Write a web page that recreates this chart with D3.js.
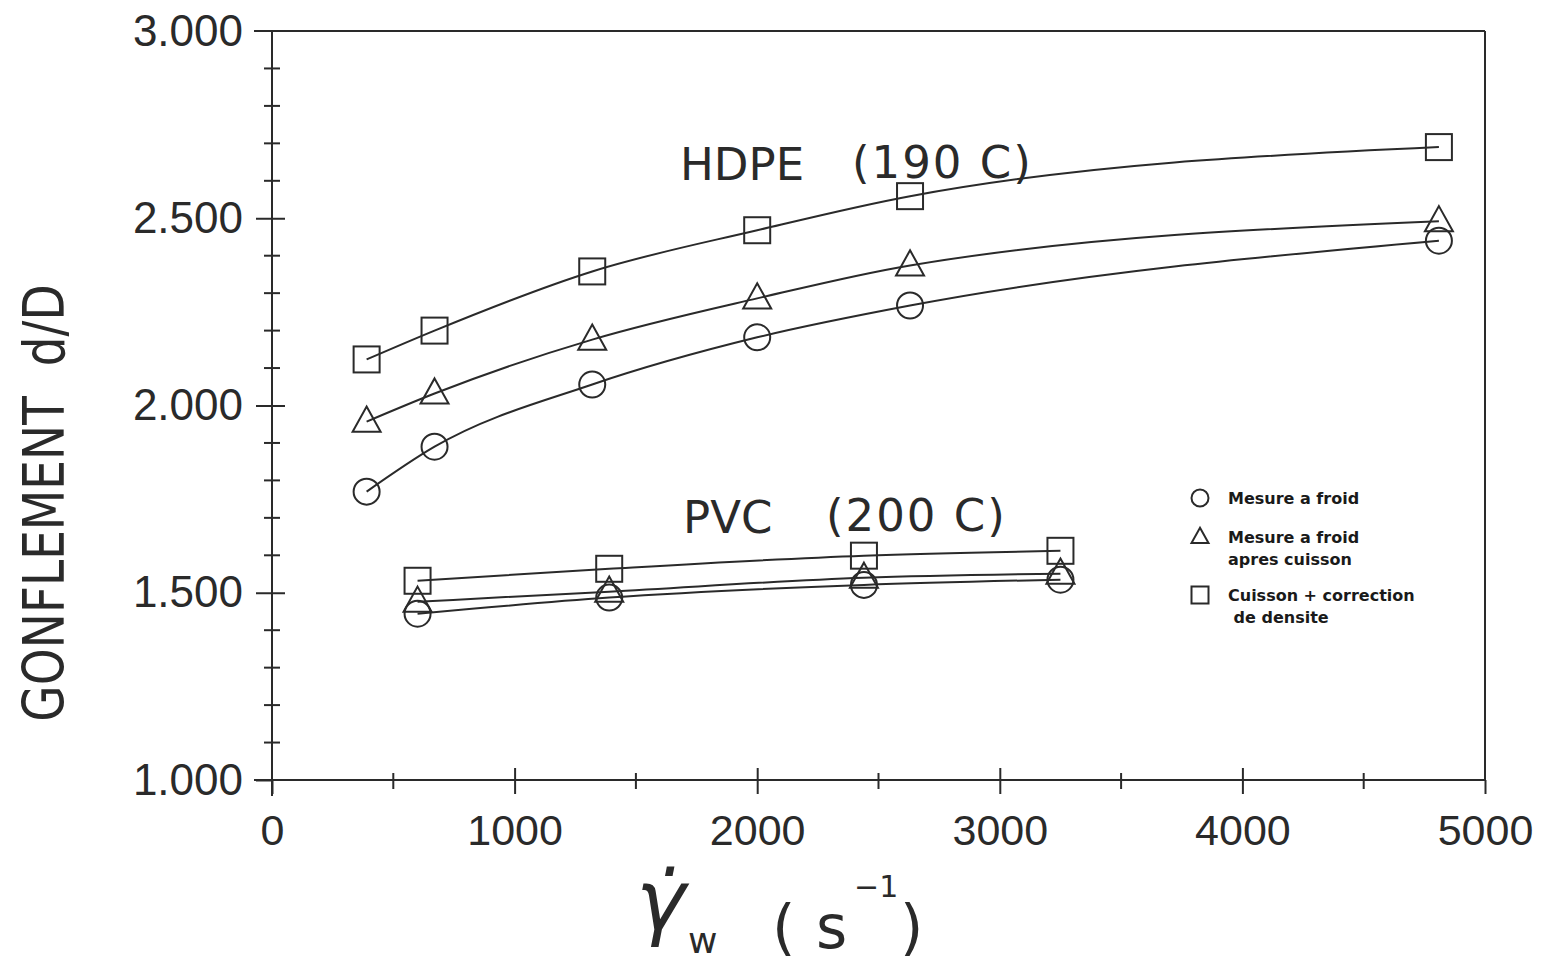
<!DOCTYPE html>
<html lang="fr">
<head>
  <meta charset="UTF-8">
  <title>Gonflement d/D</title>
  <script src="https://d3js.org/d3.v7.min.js"></script>
  <style>
    body { margin: 0; background: #fff; overflow: hidden; }
    svg { font-family: "DejaVu Sans", sans-serif; }
    .axis path, .axis line { stroke: #2a2a2a; stroke-width: 2px; }
    .axis text { fill: #2a2a2a; }
    .curve { fill: none; stroke: #2a2a2a; stroke-width: 2px; }
    .mark { fill: none; stroke: #2a2a2a; stroke-width: 2px; }
    .label { fill: #2a2a2a; font-size: 45px; }
    .legend text { fill: #1a1a1a; font-size: 16px; font-weight: bold; }
  </style>
</head>
<body>
<svg id="chart" width="1543" height="961"></svg>
<script>
// shear rate (s-1)
const hdpeX = [390, 670, 1320, 2000, 2630, 4810];
const hdpeCircle = [1.770, 1.890, 2.056, 2.182, 2.267, 2.440];
const hdpeTriangle = [1.957, 2.032, 2.176, 2.286, 2.374, 2.492];
const hdpeSquare = [2.123, 2.200, 2.358, 2.468, 2.559, 2.690];

const pvcX = [600, 1390, 2440, 3250];
const pvcCircle = [1.444, 1.487, 1.521, 1.535];
const pvcTriangle = [1.476, 1.503, 1.540, 1.551];
const pvcSquare = [1.532, 1.564, 1.599, 1.612];

const yMajor = [1.0, 1.5, 2.0, 2.5, 3.0];
const yMinor = [1.1, 1.2, 1.3, 1.4, 1.6, 1.7, 1.8, 1.9, 2.1, 2.2, 2.3, 2.4, 2.6, 2.7, 2.8, 2.9];
const xMajor = [0, 1000, 2000, 3000, 4000, 5000];
const xMinor = [500, 1500, 2500, 3500, 4500];

const legendItems = [
  { shape: "circle", lines: ["Mesure a froid"] },
  { shape: "triangle", lines: ["Mesure a froid", "apres cuisson"] },
  { shape: "square", lines: ["Cuisson + correction", " de densite"] }
];

const svg = d3.select("#chart");
const x = d3.scaleLinear().domain([0, 5000]).range([272, 1485]);
const y = d3.scaleLinear().domain([1, 3]).range([780, 31]);

// frame: top and right
svg.append("line").attr("x1", 254).attr("x2", x(5000)).attr("y1", y(3)).attr("y2", y(3))
  .attr("stroke", "#2a2a2a").attr("stroke-width", 2);
svg.append("line").attr("x1", x(5000)).attr("x2", x(5000)).attr("y1", y(3)).attr("y2", y(1))
  .attr("stroke", "#2a2a2a").attr("stroke-width", 2);

// y axis, ticks crossing the line
const gy = svg.append("g").attr("class", "axis").attr("transform", `translate(${x(0)},0)`);
gy.call(d3.axisLeft(y).tickValues(yMajor).tickSize(16).tickSizeOuter(0).tickPadding(13)
  .tickFormat(d3.format(".3f")));
gy.selectAll("text").style("font-size", "44px");
gy.select(".domain").attr("d", `M0,${y(3)}V${y(1) + 16}`);
gy.selectAll(".tick").filter(d => d === 3).select("line").remove();
gy.selectAll(".tick").filter(d => d !== 3 && d !== 1).append("line").attr("x2", 13);
yMinor.forEach(v => {
  gy.append("line").attr("x1", -8).attr("x2", 8).attr("y1", y(v)).attr("y2", y(v));
});

// x axis
const gx = svg.append("g").attr("class", "axis").attr("transform", `translate(0,${y(1)})`);
gx.call(d3.axisBottom(x).tickValues(xMajor).tickSize(14).tickSizeOuter(0).tickPadding(20)
  .tickFormat(d3.format("d")));
gx.selectAll("text").style("font-size", "43px");
gx.select(".domain").attr("d", `M${x(0) - 18},0H${x(5000)}`);
gx.selectAll(".tick").filter(d => d > 0 && d < 5000).append("line").attr("y2", -12);
xMinor.forEach(v => {
  gx.append("line").attr("x1", x(v)).attr("x2", x(v)).attr("y1", -7).attr("y2", 9);
});

// curves
const line = d3.line().x(d => x(d[0])).y(d => y(d[1])).curve(d3.curveMonotoneX);
const groups = [
  { xs: hdpeX, ys: hdpeCircle, shape: "circle" },
  { xs: hdpeX, ys: hdpeTriangle, shape: "triangle" },
  { xs: hdpeX, ys: hdpeSquare, shape: "square" },
  { xs: pvcX, ys: pvcCircle, shape: "circle" },
  { xs: pvcX, ys: pvcTriangle, shape: "triangle" },
  { xs: pvcX, ys: pvcSquare, shape: "square" }
];

function marker(g, shape, cx, cy, s) {
  if (shape === "circle") {
    g.append("circle").attr("class", "mark").attr("cx", cx).attr("cy", cy).attr("r", s / 2);
  } else if (shape === "square") {
    g.append("rect").attr("class", "mark").attr("x", cx - s / 2).attr("y", cy - s / 2)
      .attr("width", s).attr("height", s);
  } else {
    const h = s * 0.9;
    g.append("path").attr("class", "mark")
      .attr("d", `M${cx},${cy - h * 0.6}L${cx + s / 2},${cy + h * 0.4}L${cx - s / 2},${cy + h * 0.4}Z`);
  }
}

groups.forEach(gr => {
  const pts = gr.xs.map((v, i) => [v, gr.ys[i]]);
  svg.append("path").attr("class", "curve").attr("d", line(pts));
  const g = svg.append("g");
  pts.forEach(p => marker(g, gr.shape, x(p[0]), y(p[1]), gr.shape === "triangle" ? 28 : 26));
});

// annotations
svg.append("text").attr("class", "label").attr("x", 680).attr("y", 180).text("HDPE");
svg.append("text").attr("class", "label").attr("x", 852).attr("y", 178)
  .style("letter-spacing", "2px").text("(190 C)");
svg.append("text").attr("class", "label").attr("x", 683).attr("y", 533).text("PVC");
svg.append("text").attr("class", "label").attr("x", 826).attr("y", 531)
  .style("letter-spacing", "2px").text("(200 C)");

// legend
const lg = svg.append("g").attr("class", "legend");
const legendY = [498, 537, 595];
legendItems.forEach((it, i) => {
  marker(lg, it.shape, 1200, legendY[i], 17);
  it.lines.forEach((t, j) => {
    lg.append("text").attr("x", 1228).attr("y", legendY[i] + 6 + j * 22)
      .style("white-space", "pre").text(t);
  });
});

// axis titles
svg.append("text")
  .attr("transform", "translate(64,503) rotate(-90) scale(1,1.2)")
  .attr("text-anchor", "middle")
  .style("font-size", "47px").style("fill", "#2a2a2a").style("white-space", "pre")
  .text("GONFLEMENT  d/D");

const xt = svg.append("text").style("fill", "#2a2a2a");
xt.append("tspan").attr("x", 636).attr("y", 930).style("font-size", "84px")
  .style("font-style", "italic").text("\u03B3\u0307");
xt.append("tspan").attr("x", 688).attr("y", 953).style("font-size", "36px").text("w");
xt.append("tspan").attr("x", 772).attr("y", 948).style("font-size", "60px").text("(");
xt.append("tspan").attr("x", 816).attr("y", 948).style("font-size", "60px").text("s");
xt.append("tspan").attr("x", 854).attr("y", 897).style("font-size", "30px").text("\u22121");
xt.append("tspan").attr("x", 900).attr("y", 948).style("font-size", "60px").text(")");
</script>
</body>
</html>
